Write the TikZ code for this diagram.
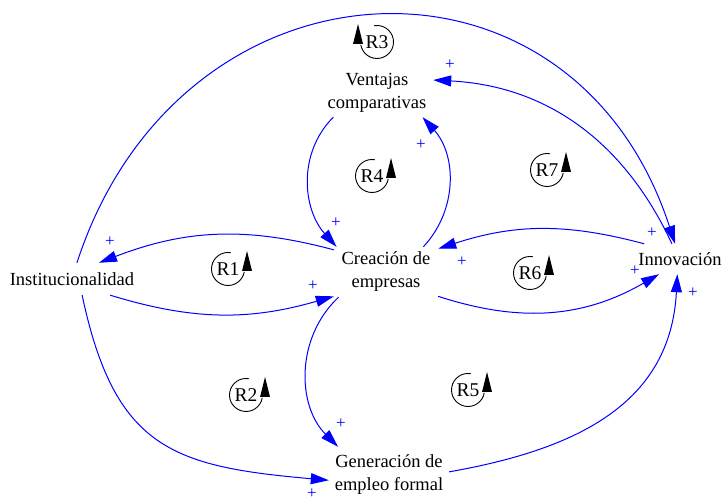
\documentclass[tikz,border=0pt]{standalone}
\usepackage{fontspec}
\setmainfont{Liberation Serif}
\usetikzlibrary{arrows.meta}
\begin{document}
\begin{tikzpicture}[x=1pt,y=1pt,
  var/.style={inner sep=0pt, align=center, font=\fontsize{18.5}{23}\selectfont},
  link/.style={draw=blue, line width=1pt, -{Triangle[length=18pt,width=11pt]}},
  pol/.style={text=blue, font=\fontsize{17}{17}\selectfont, inner sep=0pt},
  rlab/.style={inner sep=0pt, font=\fontsize{19.5}{19.5}\selectfont},
  loopccw/.pic={\draw[line width=0.9pt] (80:16.5) arc[start angle=80,end angle=350,radius=16.5];
                \fill (14,-2) -- (24,-2) -- (19,18) -- cycle;},
  loopcw/.pic={\draw[line width=0.9pt] (100:16.5) arc[start angle=100,end angle=-170,radius=16.5];
               \fill (-14,-2) -- (-24,-2) -- (-19,18) -- cycle;}
]
\useasboundingbox (0,0) rectangle (725,502);

% variables
\node[var, minimum width=124, minimum height=32] (inst) at (72,223) {Institucionalidad};
\node[var, minimum width=104, minimum height=50] (crea) at (386,230) {Creación de\\empresas};
\node[var, minimum width=112, minimum height=48] (vent) at (377,409) {Ventajas\\comparativas};
\node[var, minimum width=88, minimum height=30] (innov) at (680,243) {Innovación};
\node[var, minimum width=120, minimum height=56] (gen) at (389,27) {Generación de\\empleo formal};

% links
\draw[link] (crea.157) to[out=165,in=21] (inst.31);
\draw[link] (inst.-23) to[out=-17,in=196] (crea.205);
\draw[link] (crea.-25) to[out=-18,in=210] (innov.216);
\draw[link] (innov.157) to[out=165,in=18] (crea.24);
\draw[link] (vent.209) to[out=225,in=132] (crea.153);
\draw[link] (crea.34) to[out=47,in=-48] (vent.-28);
\draw[link] (innov.118) to[out=115,in=-3] (vent.13);
\draw[link] (inst.73) to[out=72,in=108,looseness=1.42] (innov.108);
\draw[link] (crea.208) to[out=223,in=135] (gen.151);
\draw[link] (inst.-58) to[out=-78,in=175,looseness=1.3] (gen.185);
\draw[link] (gen.3) to[out=10,in=267,looseness=1.1] (innov.260);

% polarities
\node[pol] (p1) at (110,260) {+};
\node[pol] (p2) at (313,216) {+};
\node[pol] (p3) at (635,231) {+};
\node[pol] (p4) at (462,240) {+};
\node[pol] (p5) at (336,279) {+};
\node[pol] (p6) at (421,357) {+};
\node[pol] (p7) at (450,437) {+};
\node[pol] (p8) at (652,269) {+};
\node[pol] (p9) at (341,78) {+};
\node[pol] (p10) at (312,8.5) {+};
\node[pol] (p11) at (693,209) {+};

% loop markers
\node[rlab] (r3) at (377,460) {R3};
\pic at (r3) {loopcw};
\node[rlab] (r4) at (372,326) {R4};
\pic at (r4) {loopccw};
\node[rlab] (r7) at (547,332) {R7};
\pic at (r7) {loopccw};
\node[rlab] (r1) at (228,233) {R1};
\pic at (r1) {loopccw};
\node[rlab] (r6) at (530,229) {R6};
\pic at (r6) {loopccw};
\node[rlab] (r2) at (246,107) {R2};
\pic at (r2) {loopccw};
\node[rlab] (r5) at (468,112) {R5};
\pic at (r5) {loopccw};
\end{tikzpicture}
\end{document}
